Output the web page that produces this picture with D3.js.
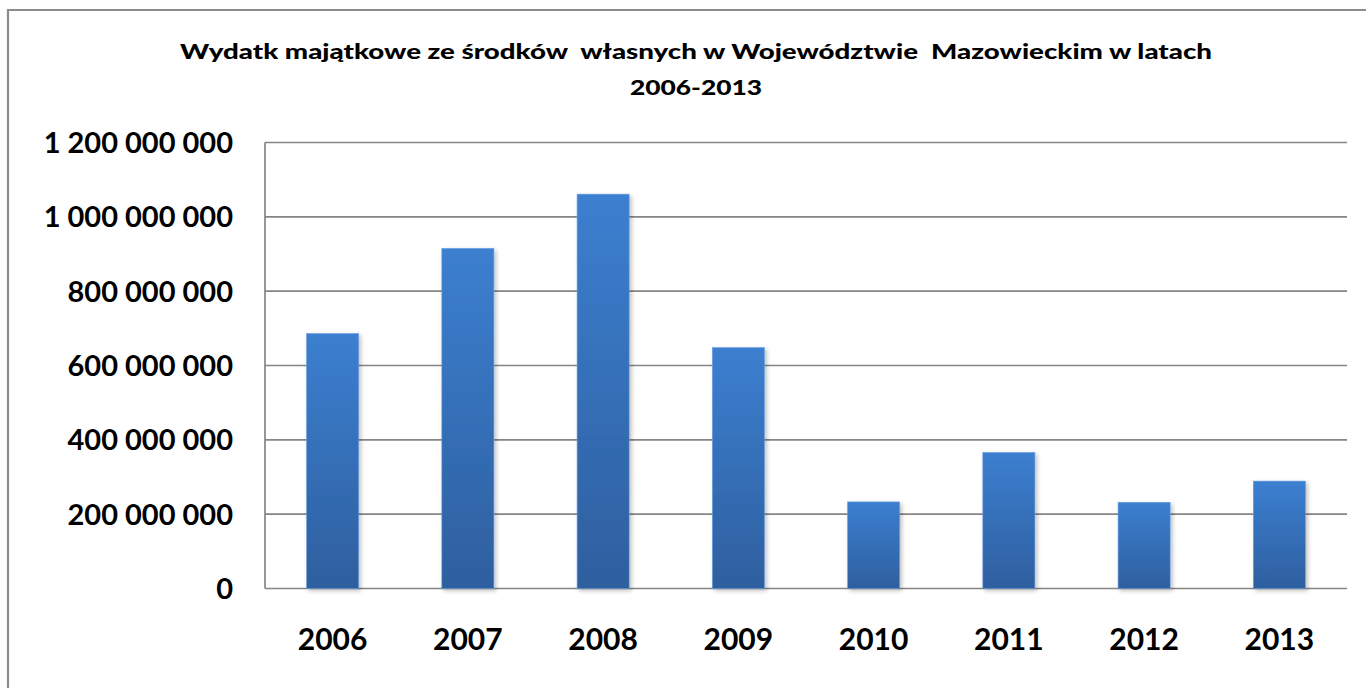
<!doctype html>
<html lang="pl">
  <head>
    <meta charset="UTF-8" />
    <title>Wydatki majątkowe</title>
    <script src="https://unpkg.com/d3@7.9.0/dist/d3.min.js"></script>
    <style>
      body {
        margin: 0;
        background: #fff;
        font-family: Lato, 'Open Sans', sans-serif;
      }
      .grid line {
        stroke: #858585;
        stroke-width: 1.7px;
      }
      .tick-label {
        font-weight: bold;
        fill: #000;
      }
    </style>
  </head>
  <body>
    <div id="chart"></div>

    <script>
      const title1 =
        'Wydatk majątkowe ze środków  własnych w Województwie  Mazowieckim w latach';
      const title2 = '2006-2013';
      const years = [
        '2006',
        '2007',
        '2008',
        '2009',
        '2010',
        '2011',
        '2012',
        '2013',
      ];
      const values = [
        686000000, 915000000, 1061000000, 648000000, 233000000,
        366000000, 232000000, 289000000,
      ];
      const yTicks = [
        0, 200000000, 400000000, 600000000, 800000000, 1000000000,
        1200000000,
      ];

      const W = 1366;
      const H = 688;
      const margin = { top: 142.5, right: 19, bottom: 99.5, left: 265 };
      const width = W - margin.left - margin.right;
      const height = H - margin.top - margin.bottom;

      // numbers like "1 200 000 000"
      const fmt = (v) =>
        v === 0 ? '0' : d3.format(',')(v).replace(/,/g, ' ');

      const svg = d3
        .select('#chart')
        .append('svg')
        .attr('width', W)
        .attr('height', H);

      const defs = svg.append('defs');
      const grad = defs
        .append('linearGradient')
        .attr('id', 'barGrad')
        .attr('x1', 0)
        .attr('y1', 0)
        .attr('x2', 0)
        .attr('y2', 1);
      grad.append('stop').attr('offset', '0%').attr('stop-color', '#3c7fd0');
      grad.append('stop').attr('offset', '100%').attr('stop-color', '#2e5f9f');

      const shadow = defs
        .append('filter')
        .attr('id', 'shadow')
        .attr('x', '-20%')
        .attr('y', '-5%')
        .attr('width', '150%')
        .attr('height', '120%');
      shadow
        .append('feDropShadow')
        .attr('dx', 2)
        .attr('dy', 2)
        .attr('stdDeviation', 2)
        .attr('flood-color', '#000')
        .attr('flood-opacity', 0.25);

      // outer frame (only top and left edges visible)
      svg
        .append('path')
        .attr('d', `M8,${H + 5}V10H${W + 5}`)
        .attr('fill', 'none')
        .attr('stroke', '#8c8c8c')
        .attr('stroke-width', 2.2);

      // title
      svg
        .append('text')
        .attr('x', 696)
        .attr('y', 59)
        .attr('text-anchor', 'middle')
        .attr('textLength', 1032)
        .attr('lengthAdjust', 'spacingAndGlyphs')
        .style('font-weight', 900)
        .style('font-size', '20px')
        .style('white-space', 'pre')
        .text(title1);
      svg
        .append('text')
        .attr('x', 696)
        .attr('y', 95)
        .attr('text-anchor', 'middle')
        .attr('textLength', 132)
        .attr('lengthAdjust', 'spacingAndGlyphs')
        .style('font-weight', 900)
        .style('font-size', '20px')
        .text(title2);

      const g = svg
        .append('g')
        .attr('transform', `translate(${margin.left},${margin.top})`);

      const x = d3
        .scaleBand()
        .domain(years)
        .range([0, width])
        .paddingInner(0.615)
        .paddingOuter(0.3075);

      const y = d3.scaleLinear().domain([0, 1200000000]).range([height, 0]);

      // gridlines
      g.append('g')
        .attr('class', 'grid')
        .selectAll('line')
        .data(yTicks)
        .enter()
        .append('line')
        .attr('x1', 0)
        .attr('x2', width)
        .attr('y1', (d) => y(d))
        .attr('y2', (d) => y(d));

      // left axis line
      g.append('g')
        .attr('class', 'grid')
        .append('line')
        .attr('x1', 0)
        .attr('x2', 0)
        .attr('y1', y(1200000000))
        .attr('y2', y(0));

      // y labels
      g.selectAll('.ylab')
        .data(yTicks)
        .enter()
        .append('text')
        .attr('class', 'tick-label ylab')
        .attr('x', -32)
        .attr('y', (d) => y(d))
        .attr('dy', '0.36em')
        .attr('text-anchor', 'end')
        .style('font-size', '29px')
        .text(fmt);

      // bars
      g.selectAll('.bar')
        .data(values)
        .enter()
        .append('rect')
        .attr('class', 'bar')
        .attr('x', (d, i) => x(years[i]))
        .attr('y', (d) => y(d))
        .attr('width', x.bandwidth())
        .attr('height', (d) => y(0) - y(d))
        .attr('fill', 'url(#barGrad)')
        .attr('stroke', '#6a9de0')
        .attr('stroke-width', 0.6)
        .attr('filter', 'url(#shadow)');

      // x labels
      g.selectAll('.xlab')
        .data(years)
        .enter()
        .append('text')
        .attr('class', 'tick-label xlab')
        .attr('x', (d) => x(d) + x.bandwidth() / 2)
        .attr('y', height + 51)
        .attr('dy', '0.36em')
        .attr('text-anchor', 'middle')
        .style('font-size', '30px')
        .text((d) => d);
    </script>
  </body>
</html>
